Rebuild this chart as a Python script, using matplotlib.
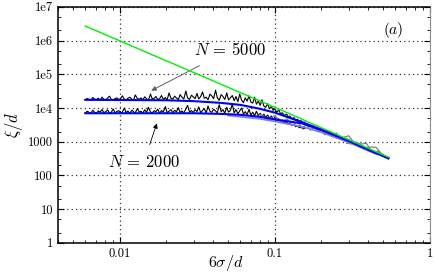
"""
Correlation length xi/d versus 6 sigma/d, panel (a).
"""

import matplotlib.pyplot as plt
from matplotlib.ticker import FixedLocator, LogLocator, NullFormatter

plt.rcParams["font.family"] = "serif"
plt.rcParams["font.serif"] = ["cmr10", "DejaVu Serif"]
plt.rcParams["mathtext.fontset"] = "cm"
plt.rcParams["axes.formatter.use_mathtext"] = True

# noisy simulation traces (black), shared sampling in 6sigma/d
noise_x = [
    0.00600, 0.00617, 0.00634, 0.00652, 0.00670, 0.00689, 0.00708, 0.00728, 0.00748, 0.00769,
    0.00791, 0.00813, 0.00836, 0.00859, 0.00883, 0.00908, 0.00933, 0.00959, 0.00986, 0.0101,
    0.0104, 0.0107, 0.0110, 0.0113, 0.0116, 0.0120, 0.0123, 0.0126, 0.0130, 0.0134,
    0.0137, 0.0141, 0.0145, 0.0149, 0.0153, 0.0158, 0.0162, 0.0167, 0.0171, 0.0176,
    0.0181, 0.0186, 0.0191, 0.0197, 0.0202, 0.0208, 0.0214, 0.0220, 0.0226, 0.0232,
    0.0239, 0.0245, 0.0252, 0.0259, 0.0267, 0.0274, 0.0282, 0.0290, 0.0298, 0.0306,
    0.0315, 0.0323, 0.0333, 0.0342, 0.0351, 0.0361, 0.0371, 0.0382, 0.0392, 0.0403,
    0.0415, 0.0426, 0.0438, 0.0451, 0.0463, 0.0476, 0.0490, 0.0503, 0.0517, 0.0532,
    0.0547, 0.0562, 0.0578, 0.0594, 0.0611, 0.0628, 0.0645, 0.0663, 0.0682, 0.0701,
    0.0721, 0.0741, 0.0761, 0.0783, 0.0805, 0.0827, 0.0850, 0.0874, 0.0899, 0.0924,
    0.0950, 0.0976, 0.100, 0.103, 0.106, 0.109, 0.112, 0.115, 0.119, 0.122,
    0.125, 0.129, 0.133, 0.136, 0.140, 0.144, 0.148, 0.152, 0.156,
]
noise_5000 = [  # units of 1e4
    1.75, 1.92, 1.80, 1.70, 2.05, 1.85, 1.78, 1.95, 1.72, 2.10,
    1.82, 1.76, 1.98, 2.25, 1.80, 1.74, 1.90, 2.00, 1.78, 1.88,
    2.30, 1.85, 1.72, 1.95, 2.10, 1.80, 1.76, 2.45, 1.90, 1.82,
    2.00, 1.75, 2.15, 1.88, 1.70, 2.60, 1.85, 1.95, 2.20, 1.78,
    1.90, 2.35, 1.80, 2.05, 1.72, 2.80, 1.95, 1.85, 2.25, 2.00,
    1.78, 2.50, 2.10, 1.85, 3.20, 2.00, 1.80, 2.40, 2.15, 1.90,
    2.70, 1.85, 2.20, 3.00, 1.95, 2.10, 1.75, 2.60, 2.30, 1.90,
    3.40, 2.00, 1.70, 2.50, 2.20, 1.80, 2.80, 1.75, 2.00, 2.35,
    1.65, 2.20, 1.55, 2.60, 1.70, 1.45, 2.00, 1.60, 2.30, 1.50,
    1.40, 2.10, 1.30, 1.60, 1.20, 1.75, 1.15, 1.05, 1.35, 0.95,
    1.10, 0.85, 0.95, 0.75, 0.88, 0.68, 0.72, 0.60, 0.66, 0.55,
    0.58, 0.48, 0.52, 0.44, 0.46, 0.40, 0.42, 0.36, 0.38,
]
noise_2000 = [  # units of 1e3
    7.2, 8.0, 7.5, 6.9, 8.6, 7.4, 7.0, 8.2, 7.6, 9.0,
    7.3, 7.8, 8.8, 7.1, 7.5, 9.4, 7.2, 7.9, 8.4, 7.0,
    7.6, 10.0, 7.3, 8.1, 7.0, 8.7, 7.7, 7.2, 9.6, 7.5,
    8.0, 7.1, 8.9, 7.4, 10.5, 7.6, 7.2, 8.3, 7.8, 9.2,
    7.0, 8.5, 7.6, 11.0, 7.3, 8.0, 9.0, 7.2, 8.6, 7.7,
    10.2, 7.4, 8.2, 7.1, 9.5, 12.0, 7.6, 8.4, 7.3, 9.0,
    7.8, 10.8, 7.2, 8.5, 9.6, 7.0, 11.5, 8.0, 7.4, 9.2,
    8.2, 7.1, 12.5, 7.8, 9.0, 7.0, 10.5, 7.6, 8.4, 13.0,
    7.2, 9.0, 6.8, 8.2, 10.0, 6.6, 7.8, 6.4, 9.2, 6.2,
    7.5, 5.9, 8.0, 6.0, 7.0, 5.6, 6.6, 5.3, 6.2, 5.0,
    5.8, 4.6, 5.3, 4.3, 4.8, 3.9, 4.4, 3.6, 4.0, 3.3,
    3.6, 3.0, 3.3, 2.8, 3.0, 2.6, 2.7, 2.4, 2.5,
]

# gray trace in the decaying region (with small loops)
gray_x = [0.080, 0.090, 0.100, 0.110, 0.120, 0.130, 0.140, 0.150, 0.160, 0.170,
          0.180, 0.190, 0.200, 0.210, 0.220, 0.235, 0.250, 0.260, 0.270, 0.300,
          0.330, 0.290, 0.310, 0.360, 0.390, 0.410, 0.380, 0.420, 0.450, 0.480,
          0.460, 0.500]
gray_y = [6500, 4500, 6000, 3800, 4800, 3000, 4000, 2500, 3300, 2200,
          2800, 2000, 2400, 1600, 2100, 1500, 1800, 1400, 1300, 1500,
          850, 900, 1050, 850, 900, 600, 650, 700, 680, 480,
          520, 420]

# smoothed curves (blue)
blue5000_x = [0.006, 0.02, 0.03, 0.045, 0.06, 0.08, 0.10, 0.15, 0.20, 0.30, 0.40, 0.54]
blue5000_y = [1.75e4, 1.70e4, 1.60e4, 1.42e4, 1.24e4, 9.5e3, 7.3e3, 3.8e3, 2.3e3, 1.1e3, 600, 330]
blue2000_x = [0.006, 0.03, 0.045, 0.06, 0.08, 0.10, 0.15, 0.20, 0.30, 0.40, 0.54]
blue2000_y = [7.0e3, 7.0e3, 6.7e3, 6.3e3, 5.5e3, 4.6e3, 3.5e3, 2.2e3, 1.05e3, 580, 320]
lightblue_x = [0.05, 0.08, 0.10, 0.15, 0.20, 0.30, 0.45]
lightblue_y = [6.0e3, 4.8e3, 4.0e3, 2.8e3, 1.9e3, 950, 430]

# power law guide (green)
green_x = [0.006, 0.10, 0.54]
green_y = [2.7e6, 1.05e4, 350]

y_ticks = [1, 10, 100, 1000, 1e4, 1e5, 1e6, 1e7]
y_ticklabels = ["1", "10", "100", "1000", "1e4", "1e5", "1e6", "1e7"]
x_ticks = [0.01, 0.1, 1]
x_ticklabels = ["0.01", "0.1", "1"]


def main() -> None:
    fig = plt.figure(figsize=(4.36, 2.76), dpi=100)
    ax = fig.add_axes([0.133, 0.12, 0.853, 0.855])
    ax.set_xscale("log")
    ax.set_yscale("log")

    ax.plot(noise_x, [v * 1e4 for v in noise_5000], color="black", lw=0.8, zorder=2)
    ax.plot(noise_x, [v * 1e3 for v in noise_2000], color="black", lw=0.8, zorder=2)
    ax.plot(gray_x, gray_y, color="#808080", lw=0.9, zorder=2)
    ax.plot(lightblue_x, lightblue_y, color="#7878ff", lw=1.2, zorder=3)
    ax.plot(blue5000_x, blue5000_y, color="#0000f0", lw=1.5, zorder=3)
    ax.plot(blue2000_x, blue2000_y, color="#0000f0", lw=1.5, zorder=3)
    ax.plot(green_x, green_y, color="#00f000", lw=1.0, zorder=4)

    ax.set_xlim(0.004, 1)
    ax.set_ylim(1, 1e7)

    ax.xaxis.set_major_locator(FixedLocator(x_ticks))
    ax.set_xticklabels(x_ticklabels)
    ax.xaxis.set_minor_locator(LogLocator(base=10, subs=(2, 3, 4, 5, 6, 7, 8, 9)))
    ax.xaxis.set_minor_formatter(NullFormatter())
    ax.yaxis.set_major_locator(FixedLocator(y_ticks))
    ax.set_yticklabels(y_ticklabels)
    ax.yaxis.set_minor_locator(LogLocator(base=10, subs=(2, 5)))
    ax.yaxis.set_minor_formatter(NullFormatter())

    ax.tick_params(which="both", direction="in", top=True, right=True, labelsize=9)
    ax.tick_params(which="major", length=4)
    ax.tick_params(which="minor", length=2.5)
    ax.grid(True, which="major", color="#333333", lw=0.9, linestyle=(0, (1, 2.5)))

    for side in ("left", "bottom", "top"):
        ax.spines[side].set_linewidth(1.1)
    ax.spines["right"].set_color("#909090")

    ax.set_xlabel(r"$6\sigma/d$", fontsize=11.5)
    ax.xaxis.set_label_coords(0.45, -0.045)
    ax.set_ylabel(r"$\xi/d$", fontsize=12, labelpad=2)

    ax.annotate(r"$N$ = 5000", xy=(0.0154, 3.0e4), xytext=(0.0513, 5.3e5),
                ha="center", va="center", fontsize=12,
                arrowprops=dict(arrowstyle="-|>", color="#606060", lw=0.7,
                                mutation_scale=7, shrinkA=7))
    ax.annotate(r"$N$ = 2000", xy=(0.0176, 4200), xytext=(0.0143, 253),
                ha="center", va="center", fontsize=12,
                arrowprops=dict(arrowstyle="-|>", color="black", lw=0.6,
                                mutation_scale=7, shrinkA=5))
    ax.text(0.577, 2.1e6, r"$(a)$", ha="center", va="center", fontsize=11)

    fig.savefig("out.png", dpi=100)
    plt.close(fig)


if __name__ == "__main__":
    main()
